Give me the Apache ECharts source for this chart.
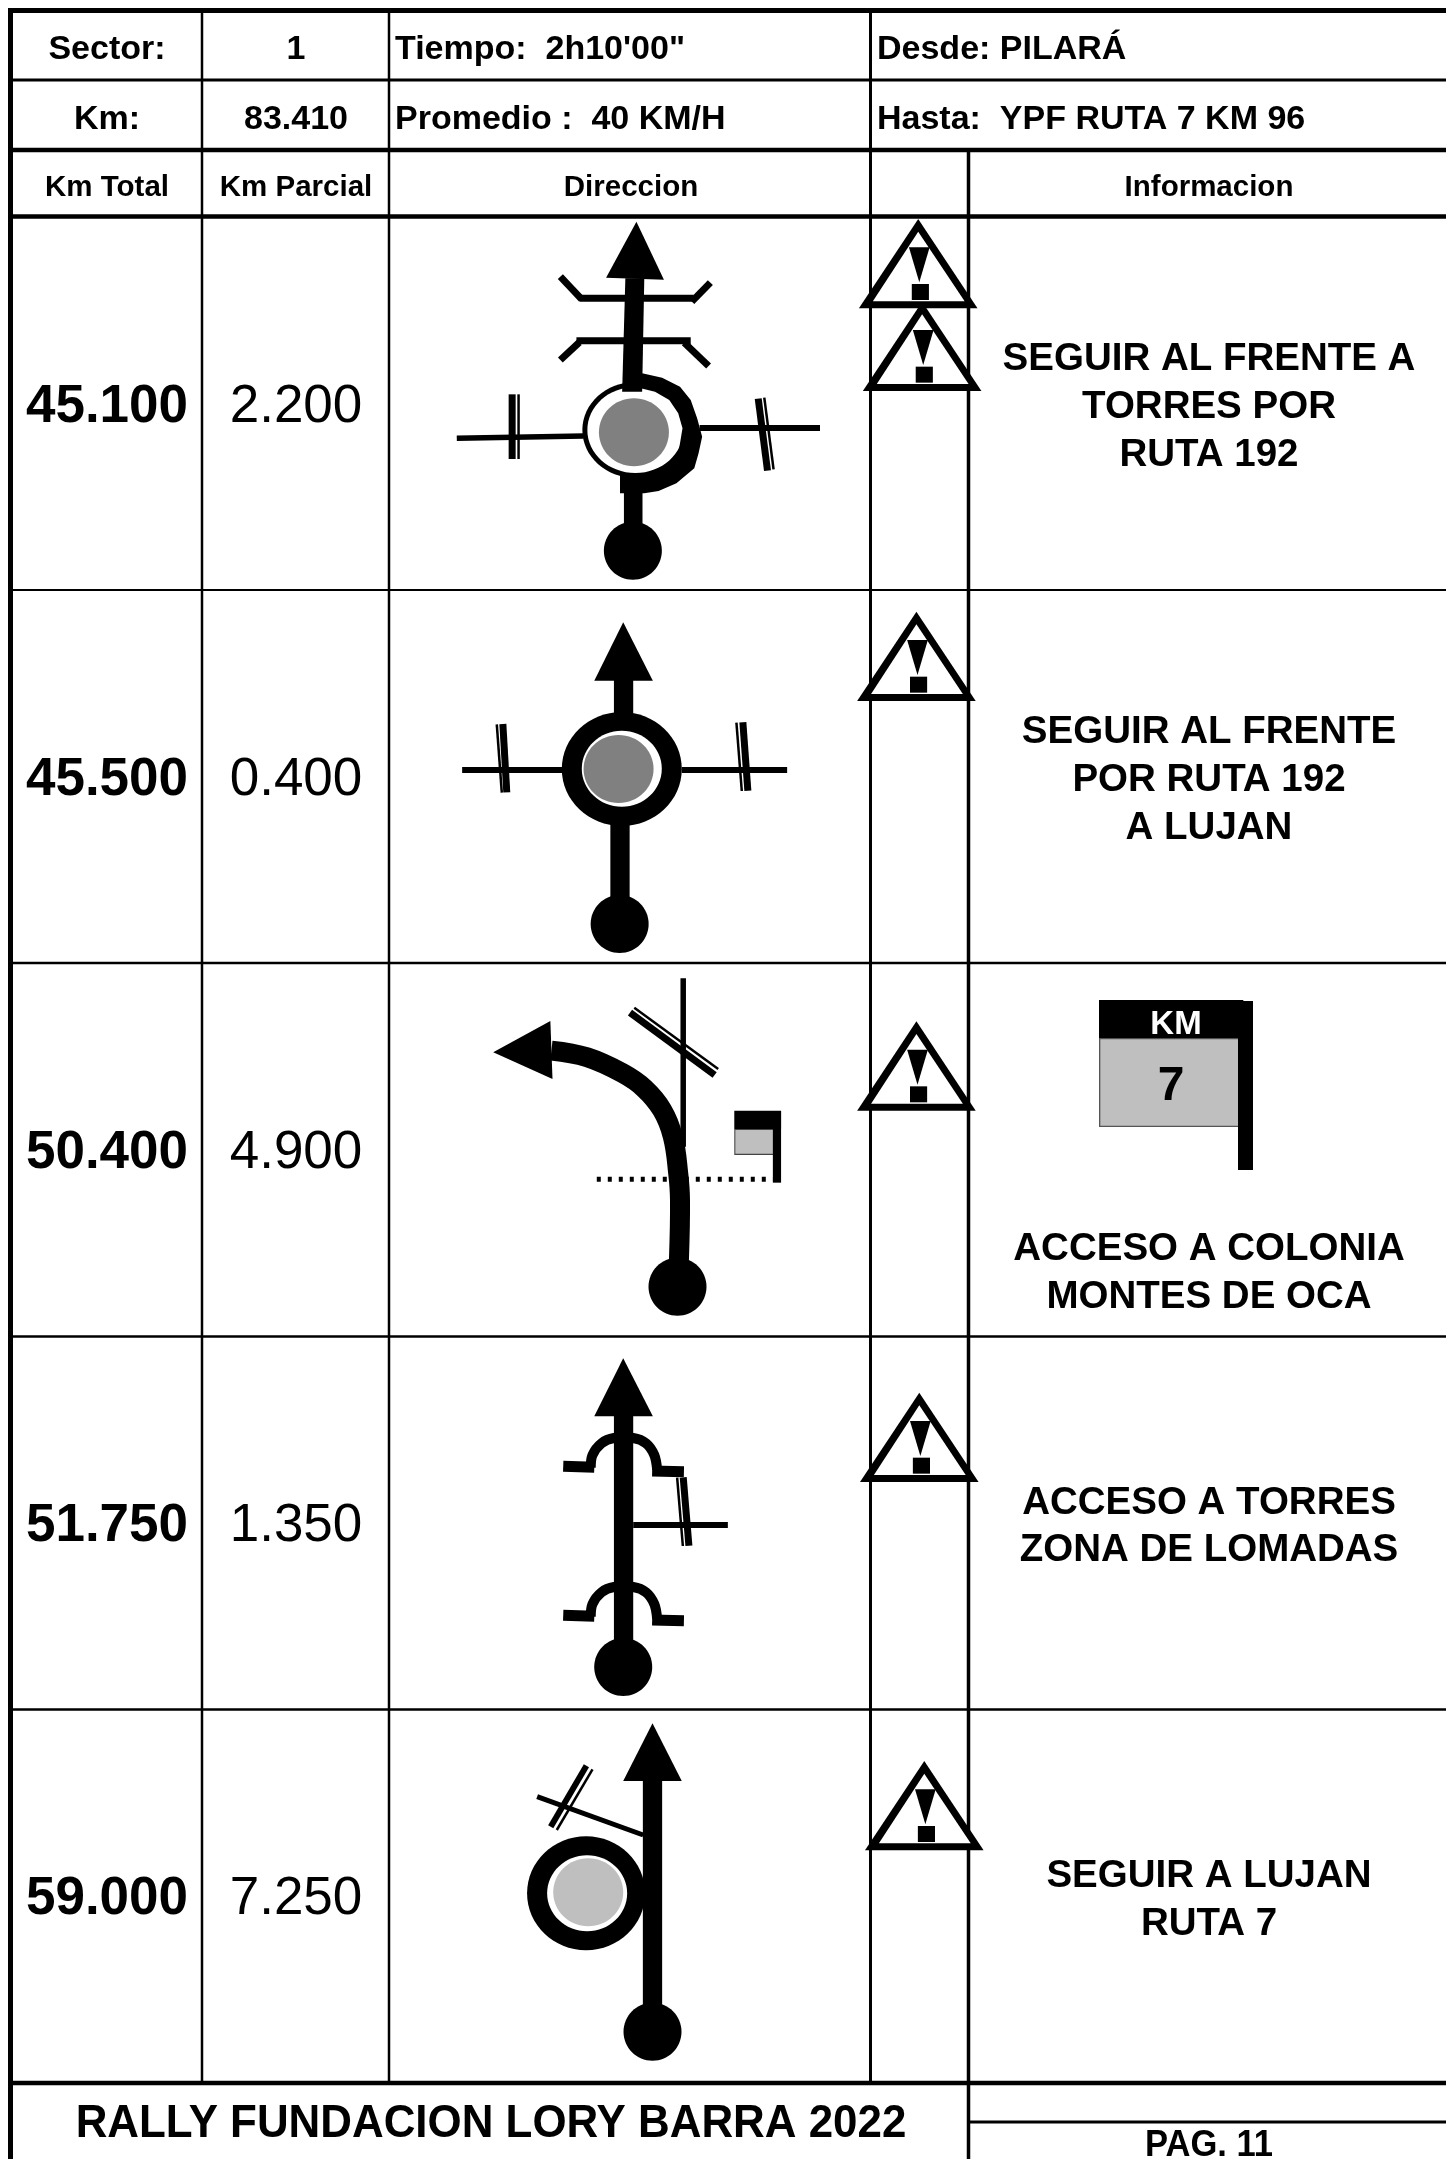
<!DOCTYPE html>
<html>
<head>
<meta charset="utf-8">
<title>Rally Fundacion Lory Barra 2022 - Pag. 11</title>
<style>
  html, body { margin: 0; padding: 0; background: #fff; }
  #roadbook { width: 1446px; height: 2159px; }
</style>
<script src="https://cdn.jsdelivr.net/npm/echarts@6/dist/echarts.min.js"></script>
</head>
<body>
<div id="roadbook"></div>
<script>
// Page data
// ------------------------------
var headerLeft = ["Sector:", "Km:"];
var headerMiddle = ["1", "83.410"];
var headerRoute = ["Tiempo:  2h10'00\"", "Promedio :  40 KM/H"];
var headerPlaces = ["Desde: PILARÁ", "Hasta:  YPF RUTA 7 KM 96"];
var columnTitles = ["Km Total", "Km Parcial", "Direccion", "Informacion"];
var kmTotal = ["45.100", "45.500", "50.400", "51.750", "59.000"];
var kmParcial = ["2.200", "0.400", "4.900", "1.350", "7.250"];
var infoLines = [
  ["SEGUIR AL FRENTE A", "TORRES POR", "RUTA 192"],
  ["SEGUIR AL FRENTE", "POR RUTA 192", "A LUJAN"],
  ["ACCESO A COLONIA", "MONTES DE OCA"],
  ["ACCESO A TORRES", "ZONA DE LOMADAS"],
  ["SEGUIR A LUJAN", "RUTA 7"]
];
var kmSignLabels = ["KM", "7"];
var footerTitle = "RALLY FUNDACION LORY BARRA 2022";
var footerPage = "PAG. 11";

// Layout
// ------------------------------
var PAGE_W = 1446, PAGE_H = 2159;
var FONT = '"Liberation Sans", Arial, Helvetica, sans-serif';
var TEXT_SHIFT = 2.5;
var rowCentre = [405, 778, 1151, 1524, 1897];
var infoY = [[357, 405, 453], [730, 778, 826], [1247, 1295], [1501, 1548], [1874, 1922]];
var colCentre = { total: 107, parcial: 296, dir: 631, info: 1209 };

// Drawing helpers, all points are in axis units
var items = { table: [], drawing: [] };

function stroke(list, pts, width, opts) {
  opts = opts || {};
  list.push({ kind: "line", pts: pts, width: width, color: opts.color || "#000", smooth: opts.smooth || 0, dash: opts.dash });
}
function fillPoly(list, pts, color) {
  list.push({ kind: "poly", pts: pts, color: color || "#000" });
}
function fillEll(list, c, rx, ry, color) {
  list.push({ kind: "ell", c: c, rx: rx, ry: ry, color: color || "#000" });
}

// Sketch space: the diagrams were measured on crops at 2.8x / 3x
function sketch(ox, oy) {
  var p = function (x, y) { return [ox + x / 2.8, oy + y / 3]; };
  p.all = function (list) { return list.map(function (q) { return p(q[0], q[1]); }); };
  p.box = function (x0, y0, x1, y1) { return p.all([[x0, y0], [x1, y0], [x1, y1], [x0, y1]]); };
  return p;
}

// Table rules
// ------------------------------
[[10.5, 5], [80, 3], [150, 4.5], [216.5, 4.5], [590, 2], [963, 2.5], [1336.5, 2.5], [1709.5, 2.5], [2083, 4.5]].forEach(function (r) {
  stroke(items.table, [[8, r[0]], [PAGE_W, r[0]]], r[1]);
});
stroke(items.table, [[970, 2122], [PAGE_W, 2122]], 3);
stroke(items.table, [[10.5, 8], [10.5, PAGE_H]], 5);
stroke(items.table, [[202, 13], [202, 2083]], 2.5);
stroke(items.table, [[389, 13], [389, 2083]], 2.5);
stroke(items.table, [[870.5, 13], [870.5, 2083]], 3);
stroke(items.table, [[968.5, 150], [968.5, PAGE_H]], 3.5);

// Road diagrams
// ------------------------------
var d = items.drawing;

function arrowHead(p, tip, left, right) {
  fillPoly(d, p.all([tip, left, right]));
}
function barPair(p, thickA, thickB, thinA, thinB) {
  stroke(d, p.all([thickA, thickB]), 7);
  stroke(d, p.all([thinA, thinB]), 2.5);
}

// Row 1, roundabout with two crossings
(function () {
  var p = sketch(430, 210);
  stroke(d, p.all([[75, 685], [430, 678]]), 5.5);
  stroke(d, p.all([[755, 654], [1092, 654]]), 6);
  barPair(p, [230, 553], [230, 747], [248, 553], [248, 747]);
  barPair(p, [919, 566], [945, 782], [936, 563], [962, 778]);
  // thin ring
  fillEll(d, p(575, 660), 53, 48);
  fillEll(d, p(575, 660), 48, 43, "#fff");
  // thick way round the right side
  fillPoly(d, p.all([[594, 490], [650, 503], [700, 530], [730, 570], [748, 625], [762, 680], [752, 730], [740, 775],
    [690, 820], [640, 843], [600, 850], [532, 850], [532, 793], [600, 792], [650, 775], [693, 740], [700, 700], [707, 655],
    [695, 610], [670, 570], [630, 545], [590, 535]]));
  fillEll(d, p(571, 667), 35, 34, "#808080");
  fillPoly(d, p.all([[547, 205], [600, 205], [594, 545], [538, 545]]));
  arrowHead(p, [578, 35], [493, 203], [655, 209]);
  stroke(d, p.all([[365, 200], [425, 268]]), 7);
  stroke(d, p.all([[420, 265], [738, 265]]), 7);
  stroke(d, p.all([[785, 218], [733, 275]]), 7);
  stroke(d, p.all([[365, 450], [418, 397]]), 7);
  stroke(d, p.all([[410, 392], [730, 392]]), 7);
  stroke(d, p.all([[712, 398], [780, 468]]), 7);
  fillPoly(d, p.box(543, 845, 595, 960));
  fillEll(d, p(568, 1022), 29, 29);
})();

// Row 2, roundabout straight on
(function () {
  var p = sketch(430, 590);
  stroke(d, p.all([[90, 540], [370, 540]]), 6);
  stroke(d, p.all([[705, 540], [1000, 540]]), 6);
  barPair(p, [204, 402], [215, 607], [187, 403], [201, 608]);
  barPair(p, [876, 397], [890, 602], [858, 398], [873, 603]);
  fillPoly(d, p.box(515, 270, 569, 380));
  arrowHead(p, [541, 97], [460, 272], [624, 272]);
  fillPoly(d, p.box(505, 700, 559, 930));
  fillEll(d, p(531, 1002), 29, 29);
  fillEll(d, p(537, 537), 60, 57);
  fillEll(d, p(537, 536), 40, 38, "#fff");
  fillEll(d, p(528, 537), 35, 34, "#808080");
})();

// Row 3, left bend with km sign
(function () {
  var p = sketch(430, 960);
  stroke(d, p.all([[709, 55], [709, 560]]), 5.5);
  barPair(p, [560, 158], [797, 345], [572, 143], [807, 327]);
  stroke(d, p.all([[467, 658], [960, 658]]), 5, { dash: [4, 7] });
  stroke(d, p.all([[697, 900], [700, 720], [695, 640], [680, 530], [650, 450], [600, 385], [540, 340], [440, 292], [340, 272]]), 20, { smooth: 0.4 });
  arrowHead(p, [177, 277], [337, 183], [343, 357]);
  fillEll(d, p(693, 980), 29, 29);
  fillPoly(d, p.box(852, 452, 983, 507));
  fillPoly(d, p.box(852, 507, 961, 585), "#444");
  fillPoly(d, p.box(855, 510, 961, 581), "#bfbfbf");
  fillPoly(d, p.box(960, 453, 983, 668));
})();

// Row 4, straight on over two humps
(function () {
  var p = sketch(430, 1335);
  [0, 447].forEach(function (dy) {
    stroke(d, p.all([[373, 394 + dy], [460, 397 + dy]]), 11);
    stroke(d, p.all([[622, 408 + dy], [711, 410 + dy]]), 11);
    stroke(d, p.all([[450, 398 + dy], [455, 360 + dy], [480, 325 + dy], [515, 309 + dy], [569, 309 + dy], [605, 325 + dy], [628, 360 + dy], [636, 404 + dy]]), 10, { smooth: 0.35 });
  });
  stroke(d, p.all([[569, 570], [834, 570]]), 6);
  barPair(p, [709, 427], [725, 632], [692, 428], [708, 633]);
  fillPoly(d, p.box(515, 240, 569, 920));
  arrowHead(p, [541, 70], [460, 244], [624, 244]);
  fillEll(d, p(541, 996), 29, 29);
})();

// Row 5, roundabout passed on the left
(function () {
  var p = sketch(430, 1710);
  stroke(d, p.all([[300, 260], [597, 375]]), 5);
  stroke(d, p.all([[438, 167], [338, 350]]), 6);
  stroke(d, p.all([[455, 178], [355, 360]]), 2.5);
  fillEll(d, p(437, 550), 59, 57);
  fillEll(d, p(440, 550), 40, 38, "#fff");
  fillEll(d, p(443, 547), 35, 34, "#bfbfbf");
  fillPoly(d, p.box(596, 210, 650, 890));
  arrowHead(p, [623, 40], [541, 213], [705, 213]);
  fillEll(d, p(623, 965), 29, 29);
})();

// Warning triangles, given by their apex
// ------------------------------
function warning(ox, oy, ax, ay) {
  var p = sketch(ox, oy);
  var at = function (x, y) { return p(ax + x, ay + y); };
  fillPoly(d, [at(0, 0), at(-166, 268), at(166, 268)]);
  fillPoly(d, [at(0, 38), at(-127, 247), at(130, 247)], "#fff");
  fillPoly(d, [at(-26, 85), at(32, 85), at(3, 190)]);
  fillPoly(d, [at(-18, 195), at(30, 195), at(30, 243), at(-18, 243)]);
}
warning(430, 210, 1367, 27);
warning(430, 210, 1378, 275);
warning(430, 590, 1362, 65);
warning(430, 960, 1362, 184);
warning(430, 1335, 1370, 173);
warning(430, 1710, 1384, 153);

// Km sign in the information column
(function () {
  var ox = 960, oy = 970;
  var p = function (x, y) { return [ox + x / 3, oy + y / 3]; };
  fillPoly(d, [p(417, 90), p(850, 90), p(850, 206), p(417, 206)]);
  fillPoly(d, [p(417, 205), p(836, 205), p(836, 471), p(417, 471)], "#555");
  fillPoly(d, [p(421, 208), p(836, 208), p(836, 467), p(421, 467)], "#bfbfbf");
  fillPoly(d, [p(834, 93), p(879, 93), p(879, 600), p(834, 600)]);
})();

// Texts
// ------------------------------
var texts = [];
function label(str, x, y, size, opts) {
  opts = opts || {};
  texts.push({
    text: str, x: x, y: y + TEXT_SHIFT, size: size,
    weight: opts.weight || "bold", align: opts.align || "center",
    color: opts.color || "#000", scaleX: opts.scaleX || 1
  });
}
var headerY = [47, 117];
headerLeft.forEach(function (s, i) { label(s, colCentre.total, headerY[i], 34); });
headerMiddle.forEach(function (s, i) { label(s, colCentre.parcial, headerY[i], 34); });
headerRoute.forEach(function (s, i) { label(s, 395, headerY[i], 34, { align: "left" }); });
headerPlaces.forEach(function (s, i) { label(s, 877, headerY[i], 34, { align: "left" }); });
label(columnTitles[0], colCentre.total, 185, 29.5);
label(columnTitles[1], colCentre.parcial, 185, 29.5);
label(columnTitles[2], colCentre.dir, 185, 29.5);
label(columnTitles[3], colCentre.info, 185, 29.5);
kmTotal.forEach(function (s, i) { label(s, colCentre.total, rowCentre[i], 53); });
kmParcial.forEach(function (s, i) { label(s, colCentre.parcial, rowCentre[i], 53, { weight: "normal" }); });
infoLines.forEach(function (lines, i) {
  lines.forEach(function (s, j) { label(s, colCentre.info, infoY[i][j], 38.5); });
});
label(kmSignLabels[0], 1176, 1022, 33, { color: "#fff" });
label(kmSignLabels[1], 1171, 1084, 48);
label(footerTitle, 491, 2122, 46, { scaleX: 0.954 });
label(footerPage, 1209, 2144, 36, { scaleX: 0.96 });

// Series builders
// ------------------------------
function renderShape(list) {
  return function (params, api) {
    var m = list[params.dataIndex];
    if (m.kind === "line") {
      var style = { stroke: m.color, lineWidth: m.width, fill: null };
      if (m.dash) { style.lineDash = m.dash; }
      return { type: "polyline", shape: { points: m.pts.map(api.coord), smooth: m.smooth }, style: style };
    }
    if (m.kind === "poly") {
      return { type: "polygon", shape: { points: m.pts.map(api.coord) }, style: { fill: m.color } };
    }
    var c = api.coord(m.c);
    return { type: "ellipse", shape: { cx: c[0], cy: c[1], rx: m.rx, ry: m.ry }, style: { fill: m.color } };
  };
}
function shapeSeries(name, list, z) {
  return {
    name: name,
    type: "custom",
    coordinateSystem: "cartesian2d",
    data: list.map(function (m, i) { return [i]; }),
    encode: { x: 0 },
    renderItem: renderShape(list),
    clip: false,
    silent: true,
    animation: false,
    z: z
  };
}

// Initialize chart
// ------------------------------
var chart = echarts.init(document.getElementById("roadbook"));

chart.setOption({
  backgroundColor: "#fff",
  animation: false,
  grid: { left: 0, right: 0, top: 0, bottom: 0 },
  xAxis: { type: "value", min: 0, max: PAGE_W, show: false },
  yAxis: { type: "value", min: 0, max: PAGE_H, inverse: true, show: false },
  series: [
    shapeSeries("table", items.table, 1),
    shapeSeries("drawing", items.drawing, 2),
    {
      name: "texts",
      type: "custom",
      coordinateSystem: "cartesian2d",
      data: texts.map(function (t) { return [t.x, t.y]; }),
      encode: { x: 0, y: 1 },
      clip: false,
      silent: true,
      animation: false,
      z: 3,
      renderItem: function (params, api) {
        var t = texts[params.dataIndex];
        var c = api.coord([t.x, t.y]);
        return {
          type: "text",
          x: c[0],
          y: c[1],
          scaleX: t.scaleX,
          style: {
            text: t.text,
            fontFamily: FONT,
            fontSize: t.size,
            fontWeight: t.weight,
            fill: t.color,
            align: t.align,
            verticalAlign: "middle"
          }
        };
      }
    }
  ]
});
</script>
</body>
</html>
